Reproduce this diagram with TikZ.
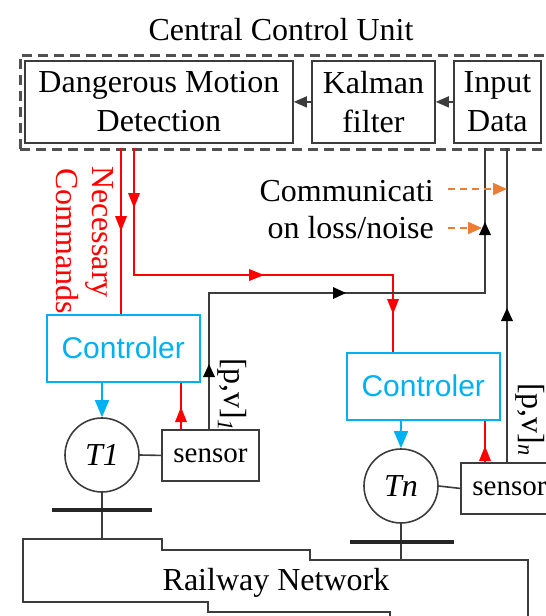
\documentclass[tikz,border=0pt]{standalone}
\usepackage{fontspec}
\setmainfont{Liberation Serif}
\newfontfamily\arialf{Liberation Sans}
\usetikzlibrary{arrows.meta,decorations.markings,calc}
\definecolor{cblue}{RGB}{0,176,240}
\definecolor{corange}{RGB}{237,125,49}
\definecolor{cgray}{RGB}{60,60,60}
\definecolor{cdash}{RGB}{80,80,80}
\definecolor{cred}{RGB}{255,0,0}
\newcommand\bigtxt{\fontsize{32}{39}\selectfont}
\newcommand\sentxt{\fontsize{29}{34}\selectfont}
\newcommand\ctltxt{\arialf\fontsize{30}{36}\selectfont}
\begin{document}
\begin{tikzpicture}[x=1pt,y=-1pt,
  blk/.style={draw=cgray,line width=1.8pt,inner sep=0pt,anchor=north west,font=\bigtxt,align=center,text=black},
  ctl/.style={draw=cblue,line width=1.5pt,inner sep=0pt,anchor=north west,minimum width=153pt,minimum height=67pt,font=\ctltxt,text=cblue},
  sens/.style={draw=cgray,line width=1.8pt,inner sep=0pt,anchor=north west,minimum width=97pt,minimum height=51pt,font=\sentxt},
  train/.style={draw=cgray,line width=1.6pt,circle,minimum size=74pt,inner sep=0pt,font=\bigtxt\itshape},
  sig/.style={draw=cgray,line width=1.6pt},
  cmd/.style={draw=cred,line width=1.3pt},
  rmarr/.style={postaction={decorate,decoration={markings,mark=at position #1 with {\fill[cred] (3pt,0pt) -- (-12pt,6pt) -- (-12pt,-6pt) -- cycle;}}}},
  kmarr/.style={postaction={decorate,decoration={markings,mark=at position #1 with {\fill[black] (3pt,0pt) -- (-10pt,6pt) -- (-10pt,-6pt) -- cycle;}}}},
  tiparr/.style={-{Triangle[length=13pt,width=11pt]}},
  bluearr/.style={draw=cblue,line width=1.6pt,-{Triangle[length=17pt,width=14pt]}},
  orarr/.style={draw=corange,line width=1.8pt,dash pattern=on 7pt off 5pt,-{Triangle[length=14pt,width=12pt]}},
  bar/.style={draw=black!85,line width=3.5pt},
  rail/.style={draw=cgray,line width=1.6pt}]
\useasboundingbox (0,0) rectangle (546,616);
\clip (0,0) rectangle (546,616);

% central control unit
\node[anchor=base,font=\bigtxt] (title) at (281,40) {Central Control Unit};
\node[draw=cdash,line width=2.8pt,dash pattern=on 10pt off 6pt,inner sep=0pt,anchor=north west,minimum width=527pt,minimum height=94pt] (cu) at (19,54) {};
\node[blk,minimum width=268pt,minimum height=82pt] (dmd) at (24,60) {Dangerous Motion\\Detection};
\node[blk,minimum width=123pt,minimum height=82pt] (kal) at (311,60) {Kalman\\filter};
\node[blk,minimum width=87pt,minimum height=82pt] (inp) at (453,60) {Input\\Data};
\draw[sig,tiparr] (kal.west) -- (dmd.east);
\draw[sig,tiparr] (inp.west) -- (kal.east);

% trains
\node[ctl] (c1) at (46,314) {Controler};
\node[ctl] (cn) at (346,352) {Controler};
\node[train] (t1) at (102,455) {T1};
\node[train] (tn) at (401,486) {Tn};
\node[sens] (s1) at (161,429) {sensor};
\node[sens] (sn) at (460,462) {sensor};
\draw[sig] (t1.east) -- (s1.west);
\draw[sig] (tn.east) -- (sn.west);
\draw[bluearr] (t1 |- c1.south) -- (t1.north);
\draw[bluearr] (tn |- cn.south) -- (tn.north);

% coordinates of line ends
\coordinate (r1top) at (121,148);
\coordinate (r2top) at (134,148);
\coordinate (r2k) at (393,275);
\coordinate (b1k) at (209,293);
\coordinate (atop) at (485,148);
\coordinate (btop) at (507,148);
\coordinate (ru1) at (181,0);
\coordinate (run) at (485,0);

% commands (red)
\draw[cmd,rmarr=80pt] (r1top) -- (r1top |- c1.north);
\draw[cmd,rmarr=57pt,rmarr=254pt,rmarr=422pt] (r2top) |- (r2k) -- (r2k |- cn.north);
\draw[cmd,rmarr=19pt] (ru1 |- s1.north) -- (ru1 |- c1.south);
\draw[cmd,rmarr=13pt] (run |- sn.north) -- (run |- cn.south);

% measurements (black)
\draw[sig,kmarr=62pt,kmarr=270pt,kmarr=480pt] (b1k |- s1.north) -- (b1k) -| (atop);
\draw[sig,kmarr=151pt] (btop |- sn.north) -- (btop);

% labels
\node[rotate=-90,anchor=base west,font=\bigtxt,text=cred,inner sep=0pt] (nec) at (92,166) {Necessary};
\node[rotate=-90,anchor=base west,font=\bigtxt,text=cred,inner sep=0pt] (com) at (56,168) {Commands};
\node[rotate=-90,anchor=base west,font=\bigtxt,inner sep=0pt] (pv1) at (224,358) {[p,v]\textsubscript{\textit{1}}};
\node[rotate=-90,anchor=base west,font=\bigtxt,inner sep=0pt] (pvn) at (522,383) {[p,v]\textsubscript{\textit{n}}};
\node[anchor=base east,font=\bigtxt,inner sep=0pt] (comm1) at (434,201) {Communicati};
\node[anchor=base east,font=\bigtxt,inner sep=0pt] (comm2) at (434,238) {on loss/noise};
\coordinate (o1) at (448,189);
\coordinate (o2) at (448,228);
\draw[orarr] (o1) -- (o1 -| btop);
\draw[orarr,shorten >=3pt] (o2) -- (o2 -| atop);

% railway network
\coordinate (rw1) at (102,539);
\coordinate (rwn) at (401,560);
\draw[sig] (t1.south) -- (rw1);
\draw[sig] (tn.south) -- (rwn);
\draw[bar] (52,510) -- (152,510);
\draw[bar] (350,542) -- (454,542);
\draw[rail] (528,622) -- (528,560) -- (310,560) -- (310,550) -- (162,550) -- (162,539) -- (23,539) -- (23,602) -- (208,602) -- (208,612) -- (390,612) -- (390,622);
\node[anchor=base,font=\bigtxt] (rwtext) at (276,590) {Railway Network};
\end{tikzpicture}
\end{document}
